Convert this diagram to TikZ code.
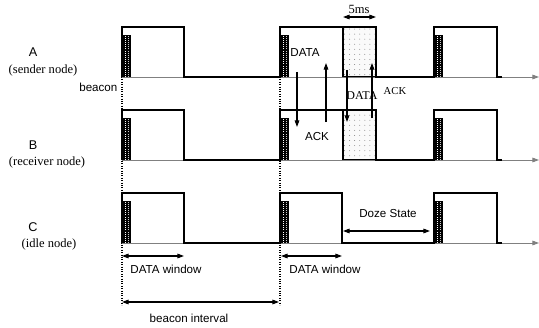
\documentclass[tikz,border=0pt]{standalone}
\usepackage{fontspec}
\setmainfont{Liberation Serif}
\setsansfont{Liberation Sans}
\usetikzlibrary{arrows.meta, patterns.meta}

\begin{document}
\begin{tikzpicture}[x=0.75pt, y=-0.75pt,
		wave/.style={draw, line width=0.9pt},
		axis/.style={draw=gray, line width=0.7pt, -{Triangle[length=5pt, width=3.5pt]}},
		slot/.style={draw, line width=0.9pt, fill=gray!4,
			postaction={pattern={Dots[distance=3.8pt, radius=0.35pt]}, pattern color=gray}},
		grid/.style={densely dotted, line width=0.8pt},
		arrow/.style={-{Triangle[length=5pt, width=3.5pt]}, line width=0.8pt},
		dblarrow/.style={{Triangle[length=5pt, width=3.5pt]}-{Triangle[length=5pt, width=3.5pt]}, line width=0.8pt},
		lbl/.style={font=\sffamily\fontsize{8.7}{10}\selectfont, inner sep=1pt},
		rowname/.style={font=\sffamily\fontsize{9.5}{11}\selectfont, inner sep=1pt},
		role/.style={font=\fontsize{9.4}{11}\selectfont, inner sep=1pt},
		]
		\useasboundingbox (0,0) rectangle (539,328);
		
		%% ── GRID LINES ─────────────────────────────────────────
		\coordinate (g1t) at (122,77);
		\coordinate (g1b) at (122,305);
		\coordinate (g2t) at (280,77);
		\coordinate (g2b) at (280,305);
		\draw[grid] (g1t) -- (g1b);
		\draw[grid] (g2t) -- (g2b);
		
		%% ── SLOTS (A and B) ────────────────────────────────────
		\draw[slot] (343,27) rectangle (376,77);
		\draw[slot] (343,110) rectangle (376,160);
		
		%% ── ROWS ───────────────────────────────────────────────
		\foreach \yb/\e in {77/376, 160/376, 243/342} {
			\draw[axis] (122,\yb) -- (539,\yb);
			\draw[wave] (122,\yb) -- ++(0,-50) -| (184,\yb) -- (280,\yb) -- ++(0,-50)
				-| (\e,\yb) -- (434,\yb) -- ++(0,-50) -| (497,\yb) -- ++(5,0);
			\foreach \xb in {122, 280, 434} {
				\fill (\xb,\yb) rectangle ++(9,-42);
				\draw[white, densely dotted, line width=0.6pt] (\xb+3,\yb) -- ++(0,-42);
				\draw[white!60!gray, densely dotted, line width=0.6pt] (\xb+6,\yb) -- ++(0,-42);
			}
		}
		
		%% ── NODE NAMES ─────────────────────────────────────────
		\node[rowname] (nA) at (33,52) {A};
		\node[role] (rA) at (43,70) {(sender node)};
		\node[rowname] (nB) at (33,145) {B};
		\node[role] (rB) at (47,162) {(receiver node)};
		\node[rowname] (nC) at (33,227) {C};
		\node[role] (rC) at (49,244) {(idle node)};
		\node[lbl, anchor=east] (bcn) at (119,87) {beacon};
		
		%% ── DATA / ACK EXCHANGE ────────────────────────────────
		\node[lbl] (dat1) at (305,53) {DATA};
		\node[lbl] (ack1) at (317,137) {ACK};
		\coordinate (d1s) at (297,72);
		\coordinate (d1e) at (297,127);
		\coordinate (a1s) at (326,122);
		\coordinate (a1e) at (326,63);
		\draw[arrow] (d1s) -- (d1e);
		\draw[arrow] (a1s) -- (a1e);
		
		\node[font=\fontsize{9}{10}\selectfont, inner sep=1pt] (dat2) at (362,96) {DATA};
		\node[font=\fontsize{8}{10}\selectfont, inner sep=1pt] (ack2) at (395,91) {ACK};
		\coordinate (d2s) at (347,70);
		\coordinate (d2e) at (347,122);
		\coordinate (a2s) at (372,118);
		\coordinate (a2e) at (372,63);
		\draw[arrow] (d2s) -- (d2e);
		\draw[arrow] (a2s) -- (a2e);
		
		%% ── 5ms ────────────────────────────────────────────────
		\coordinate (ms1) at (343,17);
		\coordinate (ms2) at (376,17);
		\draw[dblarrow] (ms1) -- (ms2);
		\node[font=\fontsize{9.4}{11}\selectfont, inner sep=1pt] (ms) at (359,9) {5ms};
		
		%% ── WINDOWS AND INTERVAL ───────────────────────────────
		\coordinate (w1s) at (122,256);
		\coordinate (w1e) at (184,256);
		\draw[dblarrow] (w1s) -- (w1e);
		\node[lbl] (win1) at (166,269) {DATA window};
		
		\coordinate (w2s) at (281,256);
		\coordinate (w2e) at (342,256);
		\draw[dblarrow] (w2s) -- (w2e);
		\node[lbl] (win2) at (325,269) {DATA window};
		
		\coordinate (dzs) at (343,231);
		\coordinate (dze) at (430,231);
		\draw[dblarrow] (dzs) -- (dze);
		\node[lbl] (doze) at (388,214) {Doze State};
		
		\coordinate (bis) at (122,302);
		\coordinate (bie) at (279,302);
		\draw[dblarrow] (bis) -- (bie);
		\node[lbl] (bint) at (189,318) {beacon interval};
		
	\end{tikzpicture}
\end{document}
